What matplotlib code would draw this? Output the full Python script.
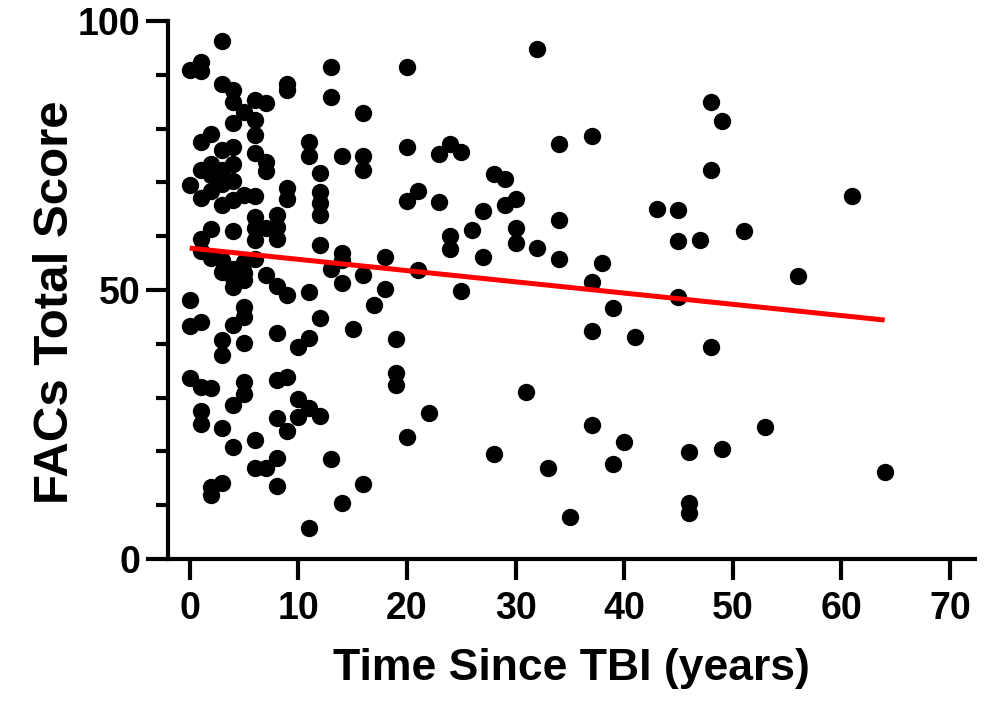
import matplotlib.pyplot as plt
import numpy as np
from matplotlib import font_manager
from matplotlib.ticker import MultipleLocator

# Data (years since TBI, FACs total score)
years = [0, 0, 0, 0, 0,
         1, 1, 1, 1, 1, 1, 1, 1, 1, 1, 1,
         2, 2, 2, 2, 2, 2, 2, 2, 2,
         3, 3, 3, 3, 3, 3, 3, 3, 3, 3, 3, 3,
         4, 4, 4, 4, 4, 4, 4, 4, 4, 4, 4, 4, 4, 4,
         5, 5, 5, 5, 5, 5, 5, 5, 5, 5,
         6, 6, 6, 6, 6, 6, 6, 6, 6, 6, 6,
         7, 7, 7, 7, 7, 7,
         8, 8, 8, 8, 8, 8, 8, 8, 8,
         9, 9, 9, 9, 9, 9, 9,
         10, 10, 10,
         11, 11, 11, 11, 11, 11,
         12, 12, 12, 12, 12, 12, 12,
         13, 13, 13, 13,
         14, 14, 14, 14, 14,
         15,
         16, 16, 16, 16, 16,
         17,
         18, 18,
         19, 19, 19,
         20, 20, 20, 20,
         21, 21,
         22,
         23, 23,
         24, 24, 24,
         25, 25,
         26,
         27, 27,
         28, 28,
         29, 29,
         30, 30, 30,
         31,
         32, 32,
         33,
         34, 34, 34,
         35,
         37, 37, 37, 37,
         38,
         39, 39,
         40,
         41,
         43,
         45, 45, 45,
         46, 46, 46,
         47,
         48, 48, 48,
         49, 49,
         51,
         53,
         56,
         61,
         64]

scores = [91.0, 69.5, 48.1, 43.3, 33.6,
          92.4, 90.8, 77.6, 72.3, 67.2, 59.4, 57.2, 44.1, 32.0, 27.6, 25.1,
          79.1, 73.5, 71.4, 68.5, 61.4, 55.9, 31.7, 13.4, 11.9,
          96.3, 88.3, 76.0, 72.3, 69.8, 65.8, 55.6, 53.4, 40.8, 38.0, 24.3, 14.1,
          87.2, 85.0, 81.0, 76.6, 73.5, 70.3, 66.7, 61.0, 54.0, 52.2, 50.6, 43.5, 28.6, 20.9,
          83.1, 67.7, 55.3, 53.1, 51.9, 46.9, 45.0, 40.2, 32.9, 30.6,
          85.3, 81.7, 78.8, 75.4, 67.5, 63.6, 61.5, 59.3, 55.8, 22.2, 16.9,
          84.7, 73.8, 72.1, 61.6, 52.8, 16.9,
          63.9, 61.8, 59.5, 50.8, 42.0, 33.2, 26.2, 18.7, 13.6,
          88.3, 87.2, 69.0, 67.0, 49.0, 33.9, 23.8,
          39.5, 29.8, 26.4,
          77.6, 75.0, 49.6, 41.1, 28.1, 5.7,
          71.7, 68.3, 66.1, 64.0, 58.3, 44.8, 26.5,
          91.4, 85.8, 54.0, 18.6,
          75.0, 56.8, 55.6, 51.3, 10.4,
          42.7,
          83.0, 74.9, 72.3, 52.8, 13.9,
          47.2,
          56.2, 50.2,
          40.9, 34.5, 32.3,
          91.4, 76.6, 66.5, 22.7,
          68.4, 53.7,
          27.2,
          75.3, 66.3,
          77.1, 60.1, 57.6,
          75.6, 49.9,
          61.2,
          64.7, 56.1,
          71.5, 19.6,
          70.6, 65.9,
          66.9, 61.5, 58.7,
          31.0,
          94.9, 57.8,
          17.0,
          77.1, 63.0, 55.7,
          7.8,
          78.7, 51.5, 42.4, 24.9,
          55.1,
          46.7, 17.7,
          21.7,
          41.2,
          65.1,
          64.9, 59.2, 48.8,
          19.8, 10.5, 8.5,
          59.3,
          85.0, 72.3, 39.5,
          81.5, 20.4,
          60.9,
          24.6,
          52.6,
          67.5,
          16.1]

# Linear fit shown in the reference
fit_intercept = 57.8
fit_slope = -0.209
fit_range = [0, 64]

# The reference uses a condensed bold sans; use a narrow face when present
installed = {f.name for f in font_manager.fontManager.ttflist}
if 'Liberation Sans Narrow' in installed:
    font = ['Liberation Sans Narrow', 'DejaVu Sans']
    tick_size, xlab_size, ylab_size = 31, 38, 43
else:
    font = ['Liberation Sans', 'DejaVu Sans']
    tick_size, xlab_size, ylab_size = 27, 32, 35.5

fig = plt.figure(figsize=(9.9, 7.04), dpi=100)
ax = fig.add_axes([0.1697, 0.206, 0.815, 0.764])

ax.plot(years, scores, 'o', color='black', markersize=12.5,
        markeredgewidth=0, clip_on=False, zorder=3)

fit_x = np.array(fit_range)
ax.plot(fit_x, fit_intercept + fit_slope * fit_x, color='#ff0000',
        linewidth=3.6, solid_capstyle='butt', zorder=4)

ax.set_xlim(-2, 72.3)
ax.set_ylim(0, 100)
ax.set_xticks(np.arange(0, 71, 10))
ax.set_yticks([0, 50, 100])
ax.yaxis.set_minor_locator(MultipleLocator(10))

for side in ['top', 'right']:
    ax.spines[side].set_visible(False)
for side in ['left', 'bottom']:
    ax.spines[side].set_linewidth(3)
    ax.spines[side].set_capstyle('projecting')

ax.tick_params(axis='x', which='major', direction='out', length=15,
               width=3, pad=8)
ax.tick_params(axis='y', which='major', direction='out', length=16,
               width=3, pad=4)
ax.tick_params(axis='y', which='minor', direction='out', length=9,
               width=3)

for lab in ax.get_xticklabels() + ax.get_yticklabels():
    lab.set_fontfamily(font)
    lab.set_fontweight('bold')
    lab.set_fontsize(tick_size)

ax.set_xlabel('Time Since TBI (years)', family=font, fontweight='bold',
              fontsize=xlab_size, labelpad=15)
ax.set_ylabel('FACs Total Score', family=font, fontweight='bold',
              fontsize=ylab_size)
ax.yaxis.set_label_coords(-0.112, 0.478)

fig.savefig('out.png', dpi=100)
